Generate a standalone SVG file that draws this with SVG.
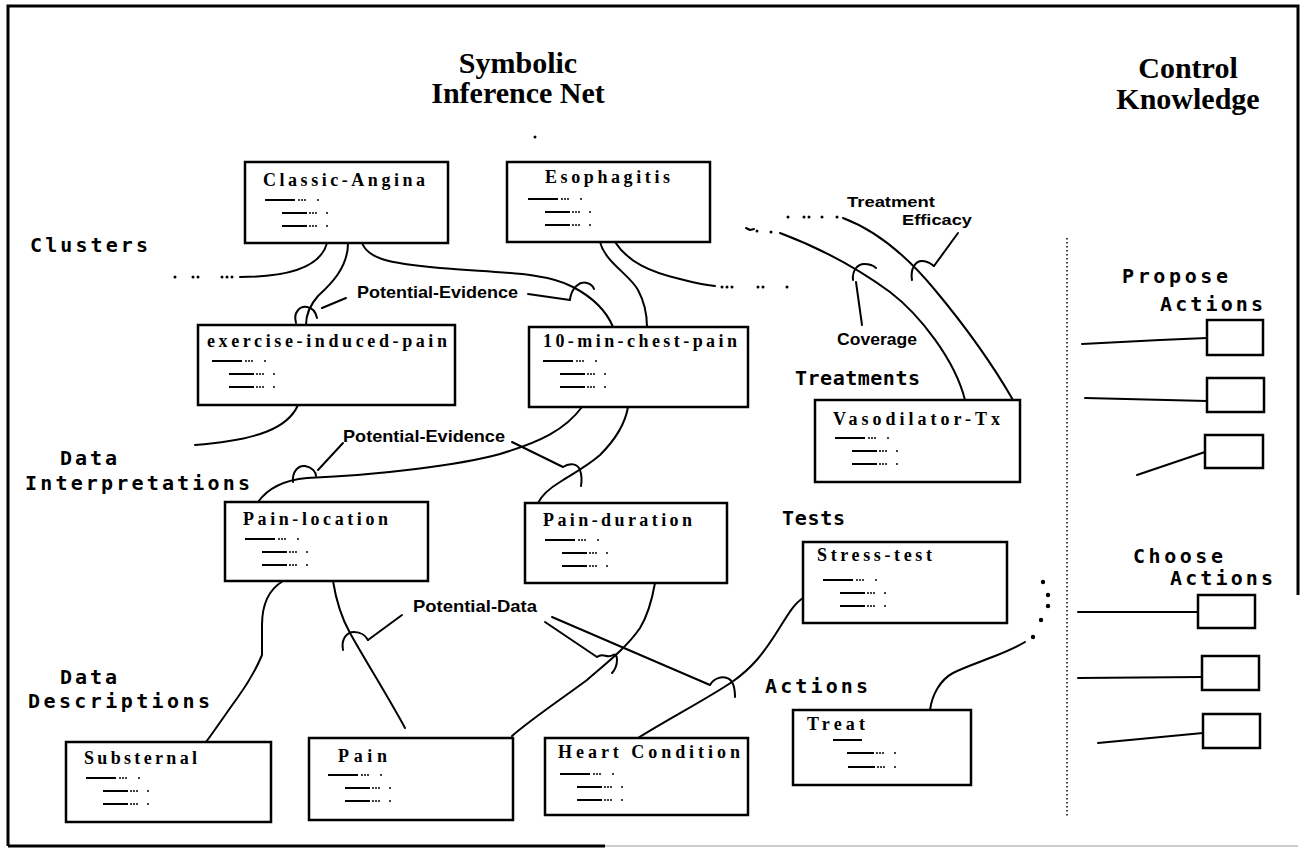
<svg xmlns="http://www.w3.org/2000/svg" xmlns:xlink="http://www.w3.org/1999/xlink" width="1304" height="853" viewBox="0 0 1304 853">
<style>
.box{fill:#fff;stroke:#000;stroke-width:2.5}
.cbox{fill:#fff;stroke:#000;stroke-width:2.5}
.conn{fill:none;stroke:#000;stroke-width:2;stroke-linecap:round;stroke-linejoin:round}
.frame{fill:none;stroke:#000;stroke-width:3}
.title{font-family:"Liberation Serif",serif;font-weight:bold;font-size:18px;fill:#000}
.sec{font-family:"DejaVu Sans Mono",monospace;font-weight:bold;font-size:20px;fill:#000}
.lbl{font-family:"Liberation Sans",sans-serif;font-weight:bold;font-size:17px;fill:#000}
.small{font-size:15px}
.head{font-family:"Liberation Serif",serif;font-weight:bold;font-size:30px;fill:#000;text-anchor:middle}
.dot{fill:#000}
</style>
<defs>
<g id="stub">
<path d="M0,0 H30 M17,13 H42 M17,26 H42" fill="none" stroke="#000" stroke-width="2"/>
<g class="dot">
<circle cx="34" cy="0" r="1"/><circle cx="37" cy="0" r="1"/><circle cx="40" cy="0" r="1"/><circle cx="53" cy="0" r="1"/>
<circle cx="45" cy="13" r="1"/><circle cx="48" cy="13" r="1"/><circle cx="51" cy="13" r="1"/><circle cx="62" cy="13" r="1"/>
<circle cx="45" cy="26" r="1"/><circle cx="48" cy="26" r="1"/><circle cx="51" cy="26" r="1"/><circle cx="62" cy="26" r="1"/>
</g>
</g>
</defs>
<rect width="1304" height="853" fill="#fff"/>
<g id="frame">
<path class="frame" d="M8,846 V6 H1298 V595"/>
<path d="M8,846 H605" stroke="#000" stroke-width="3"/>
<path d="M605,846 H1298" stroke="#999" stroke-width="1"/>
<path d="M1067,238 V818" stroke="#000" stroke-width="1.5" stroke-dasharray="1.5 2.5"/>
</g>
<g id="headings">
<text class="head" x="518" y="73">Symbolic</text>
<text class="head" x="518" y="103">Inference  Net</text>
<text class="head" x="1188" y="78">Control</text>
<text class="head" x="1188" y="109">Knowledge</text>
<circle class="dot" cx="535" cy="137" r="1.5"/>
</g>
<g id="levels">
<text class="sec" x="30" y="252" textLength="118" lengthAdjust="spacing">Clusters</text>
<text class="sec" x="60" y="465" textLength="57" lengthAdjust="spacing">Data</text>
<text class="sec" x="25" y="490" textLength="225" lengthAdjust="spacing">Interpretations</text>
<text class="sec" x="60" y="684" textLength="57" lengthAdjust="spacing">Data</text>
<text class="sec" x="28" y="708" textLength="182" lengthAdjust="spacing">Descriptions</text>
<text class="sec" x="795" y="385" textLength="125" lengthAdjust="spacing">Treatments</text>
<text class="sec" x="782" y="525" textLength="63" lengthAdjust="spacing">Tests</text>
<text class="sec" x="765" y="693" textLength="103" lengthAdjust="spacing">Actions</text>
<text class="sec" x="1122" y="283" textLength="106" lengthAdjust="spacing">Propose</text>
<text class="sec" x="1160" y="311" textLength="103" lengthAdjust="spacing">Actions</text>
<text class="sec" x="1133" y="563" textLength="90" lengthAdjust="spacing">Choose</text>
<text class="sec" x="1170" y="585" textLength="103" lengthAdjust="spacing">Actions</text>
</g>
<g id="connectors">
<path class="conn" d="M327,243 C322,262 300,277 240,277"/>
<g class="dot"><circle cx="175" cy="277" r="1.5"/><circle cx="193" cy="277" r="1.5"/><circle cx="198" cy="277" r="1.5"/><circle cx="222" cy="277" r="1.5"/><circle cx="227" cy="277" r="1.5"/><circle cx="232" cy="277" r="1.5"/></g>
<path class="conn" d="M348,243 C348,268 330,285 318,296 C310,305 306,315 306,325"/>
<path class="conn" d="M296,323 C293,312 300,306 307,307 C313,308 316,313 317,318"/>
<path class="conn" d="M322,308 L346,298"/>
<path class="conn" d="M362,243 C368,258 385,263 440,268 C500,273 545,272 573,287 C592,297 606,310 613,327"/>
<path class="conn" d="M570,299 C572,287 580,281 587,283 C591,284 593,286 594,289"/>
<path class="conn" d="M528,294 L570,300"/>
<path class="conn" d="M600,242 C605,262 630,275 638,290 C645,303 647,315 647,327"/>
<path class="conn" d="M615,242 C628,262 650,272 680,279 C695,283 705,285 715,286"/>
<g class="dot"><circle cx="722" cy="287" r="1.5"/><circle cx="727" cy="287" r="1.5"/><circle cx="732" cy="287" r="1.5"/><circle cx="758" cy="287" r="1.5"/><circle cx="763" cy="287" r="1.5"/><circle cx="787" cy="287" r="1.5"/></g>
<path class="conn" d="M298,405 C288,428 258,440 195,445"/>
<path class="conn" d="M582,407 C565,430 540,442 500,454 C460,465 380,475 307,478 C285,480 268,488 258,502"/>
<path class="conn" d="M293,482 C292,472 298,465 305,466 C312,467 316,472 316,476"/>
<path class="conn" d="M318,470 L343,443"/>
<path class="conn" d="M628,407 C625,425 615,440 600,455 C585,468 570,475 560,482 C550,488 542,495 538,503"/>
<path class="conn" d="M512,442 L563,467 C570,462 578,464 580,470 C582,476 582,480 581,486"/>
<path class="conn" d="M283,581 C268,590 262,605 262,625 L262,655 C255,672 248,683 238,697 C225,715 215,730 206,742"/>
<path class="conn" d="M333,581 C336,600 340,615 350,633 C365,660 390,700 405,728"/>
<path class="conn" d="M343,650 C341,640 346,632 354,632 C361,632 366,636 368,640"/>
<path class="conn" d="M368,640 L402,615"/>
<path class="conn" d="M655,583 C652,600 648,615 640,628 C625,650 600,668 587,680 C560,700 530,720 512,736"/>
<path class="conn" d="M545,622 L597,657 C603,652 607,659 613,655 C618,652 619,665 612,673"/>
<path class="conn" d="M552,617 L710,685 C714,678 722,676 727,678 C733,680 735,688 735,697"/>
<path class="conn" d="M638,738 C670,718 705,700 732,682 C755,666 765,650 775,635 C785,620 792,605 803,598"/>
<path class="conn" d="M965,400 C955,360 920,315 890,292 C860,270 820,248 780,233"/>
<path class="conn" d="M746,228 l4,2 l4,-1" stroke-width="1.5"/>
<g class="dot"><circle cx="757" cy="231" r="1.5"/><circle cx="771" cy="232" r="1.5"/></g>
<path class="conn" d="M853,280 C852,270 858,264 864,264 C870,264 874,266 876,268"/>
<path class="conn" d="M856,282 L862,325"/>
<path class="conn" d="M1013,400 C990,360 960,320 935,290 C912,262 880,232 843,218"/>
<g class="dot"><circle cx="788" cy="217" r="1.5"/><circle cx="804" cy="217" r="1.5"/><circle cx="809" cy="217" r="1.5"/><circle cx="822" cy="217" r="1.5"/><circle cx="837" cy="217" r="1.5"/></g>
<path class="conn" d="M912,280 C910,268 916,261 922,261 C928,261 931,264 934,266"/>
<path class="conn" d="M934,266 L958,233"/>
<path class="conn" d="M930,710 C932,695 940,680 953,673 C965,667 980,662 995,656 C1010,650 1020,645 1025,642"/>
<g class="dot"><circle cx="1043" cy="582" r="2.2"/><circle cx="1048" cy="595" r="2.2"/><circle cx="1048" cy="606" r="2.2"/><circle cx="1041" cy="620" r="2.2"/><circle cx="1033" cy="637" r="2.2"/></g>
<path class="conn" d="M1082,344 L1160,340 L1207,338"/>
<path class="conn" d="M1085,398 L1207,401"/>
<path class="conn" d="M1137,475 L1205,452"/>
<path class="conn" d="M1078,612 L1198,612"/>
<path class="conn" d="M1078,678 L1202,677"/>
<path class="conn" d="M1098,743 L1203,733"/>
<text class="lbl" x="357" y="298" textLength="161" lengthAdjust="spacingAndGlyphs">Potential-Evidence</text>
<text class="lbl" x="343" y="442" textLength="162" lengthAdjust="spacingAndGlyphs">Potential-Evidence</text>
<text class="lbl" x="413" y="612" textLength="124" lengthAdjust="spacingAndGlyphs">Potential-Data</text>
<text class="lbl" x="837" y="345" textLength="80" lengthAdjust="spacingAndGlyphs">Coverage</text>
<text class="lbl small" x="847" y="207" textLength="88" lengthAdjust="spacingAndGlyphs">Treatment</text>
<text class="lbl small" x="902" y="225" textLength="70" lengthAdjust="spacingAndGlyphs">Efficacy</text>
</g>
<g id="node-classic-angina">
<rect class="box" x="245" y="162" width="203" height="81"/>
<text class="title" x="263" y="186" textLength="162" lengthAdjust="spacing">Classic-Angina</text>
<use xlink:href="#stub" x="265" y="200"/>
</g>
<g id="node-esophagitis">
<rect class="box" x="507" y="162" width="203" height="80"/>
<text class="title" x="545" y="183" textLength="125" lengthAdjust="spacing">Esophagitis</text>
<use xlink:href="#stub" x="528" y="199"/>
</g>
<g id="node-exercise-induced-pain">
<rect class="box" x="198" y="325" width="257" height="80"/>
<text class="title" x="207" y="347" textLength="240" lengthAdjust="spacing">exercise-induced-pain</text>
<use xlink:href="#stub" x="212" y="361"/>
</g>
<g id="node-10-min-chest-pain">
<rect class="box" x="529" y="327" width="219" height="80"/>
<text class="title" x="543" y="347" textLength="194" lengthAdjust="spacing">10-min-chest-pain</text>
<use xlink:href="#stub" x="543" y="361"/>
</g>
<g id="node-vasodilator-tx">
<rect class="box" x="815" y="400" width="205" height="82"/>
<text class="title" x="833" y="425" textLength="167" lengthAdjust="spacing">Vasodilator-Tx</text>
<use xlink:href="#stub" x="835" y="438"/>
</g>
<g id="node-pain-location">
<rect class="box" x="225" y="502" width="203" height="79"/>
<text class="title" x="243" y="525" textLength="145" lengthAdjust="spacing">Pain-location</text>
<use xlink:href="#stub" x="245" y="539"/>
</g>
<g id="node-pain-duration">
<rect class="box" x="525" y="503" width="202" height="80"/>
<text class="title" x="543" y="526" textLength="149" lengthAdjust="spacing">Pain-duration</text>
<use xlink:href="#stub" x="545" y="540"/>
</g>
<g id="node-stress-test">
<rect class="box" x="803" y="542" width="204" height="81"/>
<text class="title" x="817" y="561" textLength="115" lengthAdjust="spacing">Stress-test</text>
<use xlink:href="#stub" x="823" y="580"/>
</g>
<g id="node-substernal">
<rect class="box" x="66" y="742" width="205" height="80"/>
<text class="title" x="84" y="764" textLength="113" lengthAdjust="spacing">Substernal</text>
<use xlink:href="#stub" x="86" y="778"/>
</g>
<g id="node-pain">
<rect class="box" x="309" y="738" width="204" height="82"/>
<text class="title" x="338" y="762" textLength="49" lengthAdjust="spacing">Pain</text>
<use xlink:href="#stub" x="328" y="775"/>
</g>
<g id="node-heart-condition">
<rect class="box" x="545" y="738" width="203" height="77"/>
<text class="title" x="558" y="758" textLength="182" lengthAdjust="spacing">Heart Condition</text>
<use xlink:href="#stub" x="560" y="774"/>
</g>
<g id="node-treat">
<rect class="box" x="793" y="710" width="178" height="75"/>
<text class="title" x="807" y="730" textLength="58" lengthAdjust="spacing">Treat</text>
<path d="M833,740 H862 M847,753 H874 M848,767 H875" stroke="#000" stroke-width="2"/>
<g class="dot"><circle cx="877" cy="753" r="1"/><circle cx="880" cy="753" r="1"/><circle cx="883" cy="753" r="1"/><circle cx="895" cy="753" r="1"/><circle cx="878" cy="767" r="1"/><circle cx="881" cy="767" r="1"/><circle cx="884" cy="767" r="1"/><circle cx="895" cy="767" r="1"/></g>
</g>
<g id="ctl-propose-1"><rect class="cbox" x="1207" y="320" width="56" height="35"/></g>
<g id="ctl-propose-2"><rect class="cbox" x="1207" y="378" width="57" height="34"/></g>
<g id="ctl-propose-3"><rect class="cbox" x="1205" y="435" width="58" height="33"/></g>
<g id="ctl-choose-1"><rect class="cbox" x="1198" y="595" width="57" height="33"/></g>
<g id="ctl-choose-2"><rect class="cbox" x="1202" y="656" width="57" height="34"/></g>
<g id="ctl-choose-3"><rect class="cbox" x="1203" y="714" width="57" height="34"/></g>
</svg>
